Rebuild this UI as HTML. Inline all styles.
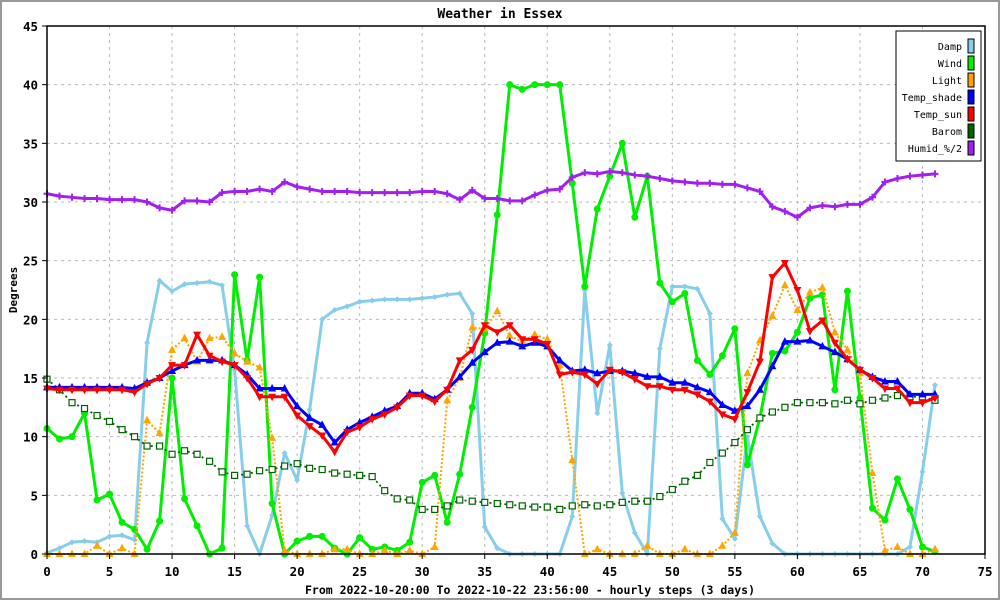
<!DOCTYPE html>
<html><head><meta charset="utf-8"><style>
html,body{margin:0;padding:0;background:#fff}
svg{display:block}
text{font-family:"DejaVu Sans Mono","Liberation Mono",monospace}
</style></head><body>
<svg id="chart" width="1000" height="600" viewBox="0 0 1000 600" xmlns="http://www.w3.org/2000/svg">
<rect x="1" y="1" width="998" height="598" fill="#fff" stroke="#999" stroke-width="2"/>
<text x="500" y="18" text-anchor="middle" font-size="13" font-weight="bold">Weather in Essex</text>
<text transform="translate(17,290) rotate(-90)" text-anchor="middle" font-size="11" font-weight="bold">Degrees</text>
<text x="530" y="594" text-anchor="middle" font-size="11.5" font-weight="bold">From 2022-10-20:00 To 2022-10-22 23:56:00 - hourly steps (3 days)</text>
<g id="grid"></g>
<g id="series"></g>
<g id="axes"></g>
<g id="legend"></g>
</svg>
<script>
const hours = Array.from({length:72},(_,i)=>i);
const xTicks = [0,5,10,15,20,25,30,35,40,45,50,55,60,65,70,75];
const yTicks = [0,5,10,15,20,25,30,35,40,45];
const damp = [0.1,0.5,1.0,1.1,1.0,1.5,1.6,1.2,18,23.3,22.4,23,23.1,23.2,22.9,15.7,2.4,0,3.3,8.6,6.3,12.3,20,20.8,21.1,21.5,21.6,21.7,21.7,21.7,21.8,21.9,22.1,22.2,20.5,2.3,0.5,0,0,0,0,0,3.2,22.5,12,17.8,5.2,1.8,0,17.5,22.8,22.8,22.6,20.5,3.0,1.3,10,3.2,0.9,0,0,0,0,0,0,0,0,0,0,0.6,7,14.4];
const wind = [10.7,9.8,10,12,4.6,5.1,2.7,2.1,0.4,2.8,15,4.7,2.4,0,0.5,23.8,16.5,23.6,4.3,0,1.1,1.5,1.5,0.5,0,1.4,0.4,0.6,0.3,1.0,6.1,6.7,2.7,6.8,12.5,18.8,28.9,40,39.6,40,40,40,31.6,22.8,29.4,32.2,35,28.7,32.2,23.1,21.5,22.2,16.5,15.3,16.9,19.2,7.6,11.6,17.1,17.3,18.9,21.8,22.1,14,22.4,13.3,3.9,2.9,6.4,3.8,0.6,0.2];
const light = [0,0,0,0,0.7,0,0.5,0,11.4,10.3,17.4,18.4,16.4,18.4,18.5,17.1,16.4,15.9,9.9,0.3,0,0,0,0.4,0.4,0,0,0.3,0,0.3,0,0.6,13.1,15,19.3,19.2,20.7,18.6,18.1,18.7,18.3,16.1,8,0,0.4,0,0,0,0.7,0,0,0.4,0,0,0.7,1.8,15.4,18.2,20.3,22.9,20.8,22.3,22.7,18.9,17.4,15.4,6.9,0.3,0.6,0,0,0.4];
const tempShade = [14.2,14.2,14.2,14.2,14.2,14.2,14.2,14.1,14.6,15,15.6,16.1,16.5,16.5,16.5,16.1,15.3,14.1,14.1,14.1,12.6,11.6,11,9.5,10.6,11.2,11.7,12.2,12.6,13.7,13.7,13.2,14,15.1,16.3,17.2,18,18.1,17.7,18,17.7,16.5,15.6,15.7,15.4,15.6,15.6,15.4,15.1,15.1,14.6,14.6,14.2,13.8,12.7,12.2,12.6,14,16,18.1,18.1,18.2,17.7,17.2,16.6,15.7,15.1,14.7,14.7,13.6,13.6,13.6];
const tempSun = [14.1,14,14,14,14,14,14,13.8,14.5,15,16.1,16.1,18.7,16.9,16.4,16.1,15,13.4,13.4,13.4,11.8,10.9,10.1,8.7,10.4,10.8,11.5,11.9,12.5,13.5,13.5,13,14,16.5,17.4,19.5,18.9,19.5,18.3,18.3,17.9,15.3,15.5,15.3,14.5,15.7,15.5,14.9,14.3,14.3,14,14,13.6,13,11.9,11.5,13.8,16.4,23.6,24.8,22.5,19,19.9,18,16.6,15.7,15,14.1,14.1,12.9,12.9,13.3];
const barom = [14.9,14,12.9,12.4,11.8,11.3,10.6,10,9.2,9.2,8.5,8.8,8.5,7.9,7,6.7,6.8,7.1,7.2,7.5,7.7,7.3,7.2,6.9,6.8,6.7,6.6,5.4,4.7,4.6,3.8,3.8,4.1,4.6,4.5,4.4,4.3,4.2,4.1,4,4,3.8,4.1,4.2,4.1,4.2,4.4,4.5,4.5,4.9,5.5,6.2,6.7,7.8,8.6,9.5,10.6,11.6,12.1,12.5,12.9,12.9,12.9,12.8,13.1,12.8,13.1,13.3,13.5,13.4,13.4,13.1];
const humid = [30.7,30.5,30.4,30.3,30.3,30.2,30.2,30.2,30,29.5,29.3,30.1,30.1,30,30.8,30.9,30.9,31.1,30.9,31.7,31.3,31.1,30.9,30.9,30.9,30.8,30.8,30.8,30.8,30.8,30.9,30.9,30.7,30.2,31,30.3,30.3,30.1,30.1,30.6,31,31.1,32.1,32.5,32.4,32.6,32.5,32.3,32.2,32,31.8,31.7,31.6,31.6,31.5,31.5,31.2,30.9,29.6,29.2,28.7,29.5,29.7,29.6,29.8,29.8,30.4,31.7,32,32.2,32.3,32.4];
const seriesNames = ["Damp","Wind","Light","Temp_shade","Temp_sun","Barom","Humid_%/2"];

const NS="http://www.w3.org/2000/svg";
const X0=47,X1=985,Y0=554,Y1=26;
const xs=h=>X0+(h/75)*(X1-X0);
const ys=v=>Y0-(v/45)*(Y0-Y1);
function mk(tag,attrs,parent){const e=document.createElementNS(NS,tag);for(const k in attrs)e.setAttribute(k,attrs[k]);parent.appendChild(e);return e;}
const grid=document.getElementById('grid'),axes=document.getElementById('axes'),ser=document.getElementById('series'),leg=document.getElementById('legend');

xTicks.forEach(t=>{
  if(t>0&&t<75){const l=mk('line',{x1:xs(t),x2:xs(t),y1:Y1,y2:Y0,stroke:'#bbb','stroke-dasharray':'3,4'},grid);
  
  }
  const tk=mk('line',{x1:xs(t),x2:xs(t),y1:Y0,y2:Y0+5,stroke:'#000'},axes);
  
  
  const tx=mk('text',{x:xs(t),y:576,'text-anchor':'middle','font-size':12.5,'font-weight':'bold'},axes);
  tx.textContent=t;
  
  
});
yTicks.forEach(t=>{
  if(t>0&&t<45){const l=mk('line',{x1:X0,x2:X1,y1:ys(t),y2:ys(t),stroke:'#bbb','stroke-dasharray':'3,4'},grid);
  
  }
  const tk=mk('line',{x1:X0-5,x2:X0,y1:ys(t),y2:ys(t),stroke:'#000'},axes);
  
  
  const tx=mk('text',{x:X0-9,y:ys(t)+5,'text-anchor':'end','font-size':12.5,'font-weight':'bold'},axes);
  tx.textContent=t;
  
  
});
const frame=mk('rect',{x:X0,y:Y1,width:X1-X0,height:Y0-Y1,fill:'none',stroke:'#000','stroke-width':1.5},axes);



function marker(kind,x,y,c,g){
  let e;
  if(kind==='circle') e=mk('circle',{cx:x,cy:y,r:3.5,fill:c},g);
  else if(kind==='up') e=mk('polygon',{points:`${x},${y-4.5} ${x-4},${y+3} ${x+4},${y+3}`,fill:c},g);
  else if(kind==='down') e=mk('polygon',{points:`${x},${y+4.5} ${x-4},${y-3} ${x+4},${y-3}`,fill:c},g);
  else if(kind==='square') e=mk('rect',{x:x-3,y:y-3,width:6,height:6,fill:'#fff',stroke:c,'stroke-width':1.2},g);
  else if(kind==='cross') e=mk('path',{d:`M${x-3.5},${y}H${x+3.5}M${x},${y-3.5}V${y+3.5}`,stroke:c,'stroke-width':2},g);
  else e=mk('polygon',{points:`${x},${y-3} ${x+3},${y} ${x},${y+3} ${x-3},${y}`,fill:c},g);
  return e;
}
const defs=[
 [damp,'#87ceeb','diamond',3,null,'damp'],
 [wind,'#00ee00','circle',3,null,'wind'],
 [light,'#ffa500','up',2,'2,2','light'],
 [barom,'#006400','square',1.8,'2,3','barom'],
 [tempShade,'#0000ff','up',3,null,'temp-shade'],
 [tempSun,'#ff0000','down',3,null,'temp-sun'],
 [humid,'#a020f0','cross',3,null,'humid'],
];
defs.forEach(([vals,c,m,w,dash,nm])=>{
  const g=mk('g',{},ser);
  
  
  const pts=vals.map((v,i)=>xs(hours[i])+','+ys(v)).join(' ');
  const a={points:pts,fill:'none',stroke:c,'stroke-width':w,'stroke-linejoin':'round'};
  if(dash)a['stroke-dasharray']=dash;
  const pl=mk('polyline',a,g);
  
  
  vals.forEach((v,i)=>{
    const p=marker(m,xs(hours[i]),ys(v),c,g);
    
    
  });
});

const lb=mk('rect',{x:896,y:31,width:85,height:130,fill:'#fff',stroke:'#000'},leg);


const legColors=['#87ceeb','#00ee00','#ffa500','#0000ff','#ff0000','#006400','#a020f0'];
seriesNames.forEach((n,i)=>{
  const y=46+i*17;
  const t=mk('text',{x:962,y:y+4,'text-anchor':'end','font-size':10},leg);
  t.textContent=n;
  
  
  const s=mk('rect',{x:968,y:y-7,width:6,height:14,fill:legColors[i],stroke:'#000'},leg);
  
  
});
</script>
</body></html>
